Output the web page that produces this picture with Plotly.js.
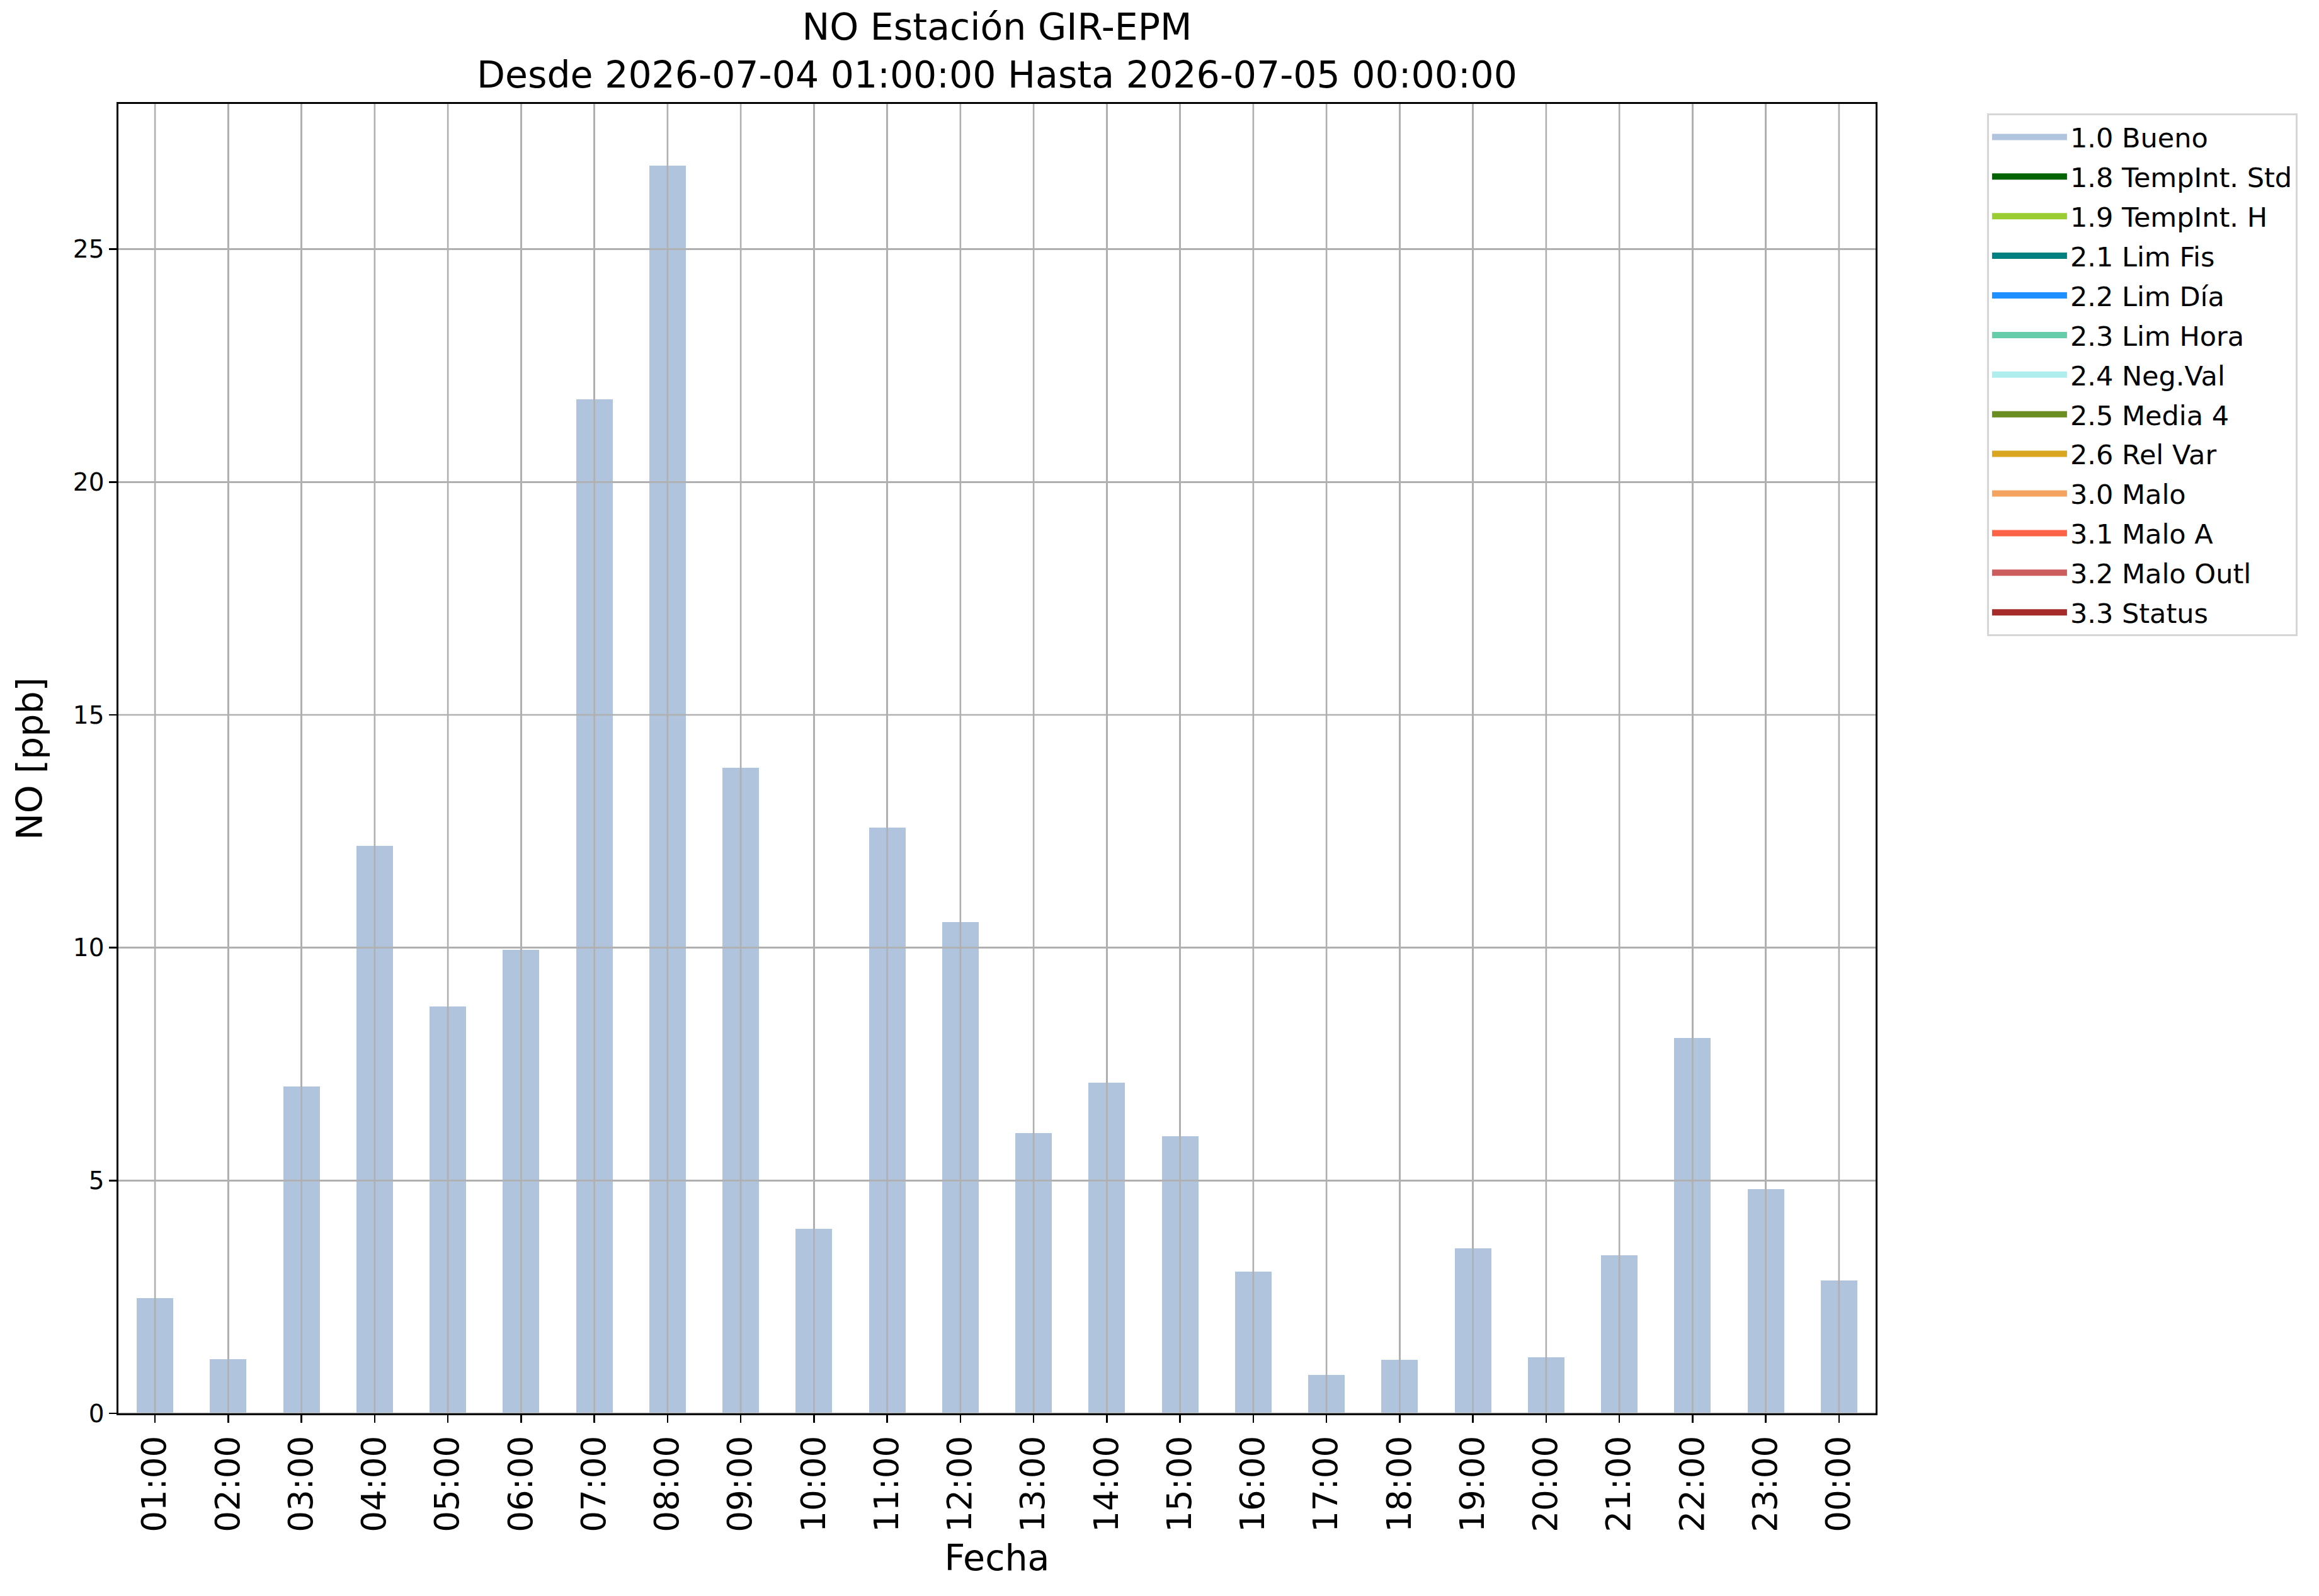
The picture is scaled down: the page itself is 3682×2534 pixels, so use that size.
<!DOCTYPE html>
<html>
<head>
<meta charset="utf-8">
<script src="https://cdn.plot.ly/plotly-3.0.1.min.js"></script>
<style>html,body{margin:0;padding:0;background:#fff;}#chart{width:3682px;height:2534px;}</style>
</head>
<body>
<div id="chart"></div>
<script>
const categories = ["01:00","02:00","03:00","04:00","05:00","06:00","07:00","08:00","09:00","10:00","11:00","12:00",
                    "13:00","14:00","15:00","16:00","17:00","18:00","19:00","20:00","21:00","22:00","23:00","00:00"];
const buenoValues = [2.47,1.16,7.02,12.19,8.74,9.96,21.78,26.79,13.86,3.96,12.58,10.55,
                     6.02,7.10,5.95,3.04,0.83,1.15,3.55,1.21,3.40,8.06,4.82,2.85];
// every other quality flag has no data in this period (all hours are 0)
const otherFlagValues = [0,0,0,0,0,0,0,0,0,0,0,0,0,0,0,0,0,0,0,0,0,0,0,0];
const flagNames = ["1.0 Bueno","1.8 TempInt. Std","1.9 TempInt. H","2.1 Lim Fis","2.2 Lim Día","2.3 Lim Hora",
                   "2.4 Neg.Val","2.5 Media 4","2.6 Rel Var","3.0 Malo","3.1 Malo A","3.2 Malo Outl","3.3 Status"];
const flagColors = ["#B0C4DE","#006400","#9ACD32","#008080","#1E90FF","#66CDAA",
                    "#AFEEEE","#6B8E23","#DAA520","#F4A460","#FF6347","#CD5C5C","#A52A2A"];
const yTicks = [0,5,10,15,20,25];

const FONT = "DejaVu Sans";
const barTraces = flagNames.map((name, i) => ({
  type: "bar",
  name: name,
  x: categories,
  y: i === 0 ? buenoValues : otherFlagValues,
  width: 0.5,
  marker: {color: flagColors[i], line: {width: 0}},
  legendgroup: "g" + i,
  showlegend: false,
  hoverinfo: "skip"
}));
// legend keys: wide colour patches like the original legend
const legendTraces = flagNames.map((name, i) => ({
  type: "scatter",
  mode: "lines",
  name: name,
  x: [null],
  y: [null],
  line: {color: flagColors[i], width: 29},
  legendgroup: "g" + i,
  showlegend: true,
  hoverinfo: "skip"
}));

const gridShapes = [];
categories.forEach(c => gridShapes.push({type:"line", xref:"x", yref:"paper", x0:c, x1:c, y0:0, y1:1,
  layer:"above", line:{color:"#b0b0b0", width:2.6}}));
yTicks.forEach(v => gridShapes.push({type:"line", xref:"paper", yref:"y", x0:0, x1:1, y0:v, y1:v,
  layer:"above", line:{color:"#b0b0b0", width:2.6}}));

const layout = {
  width: 3682, height: 2534,
  paper_bgcolor: "#ffffff", plot_bgcolor: "#ffffff",
  margin: {l: 188, r: 704, t: 165, b: 290, autoexpand: false},
  font: {family: FONT, color: "#000000"},
  barmode: "stack",
  bargap: 0.5,
  showlegend: true,
  title: {
    text: "NO Estación GIR-EPM<br>Desde 2026-07-04 01:00:00 Hasta 2026-07-05 00:00:00",
    font: {family: FONT, size: 58.5, color: "#000"},
    xref: "paper", x: 0.5, xanchor: "center",
    yref: "container", y: 0.975, yanchor: "bottom"
  },
  xaxis: {
    type: "category",
    categoryorder: "array", categoryarray: categories,
    range: [-0.5, 23.5],
    tickangle: -90,
    tickfont: {family: FONT, size: 53, color: "#000"},
    ticks: "outside", ticklen: 12, tickwidth: 2.7, tickcolor: "#000",
    showline: true, linecolor: "#000", linewidth: 2.7, mirror: true,
    showgrid: true, gridcolor: "#b0b0b0", gridwidth: 2.6,
    zeroline: false,
    title: {text: "Fecha", font: {family: FONT, size: 57, color: "#000"}, standoff: 22},
    automargin: false
  },
  yaxis: {
    range: [0, 28.12],
    tickvals: yTicks,
    ticktext: yTicks.map(String),
    tickfont: {family: FONT, size: 39, color: "#000"},
    ticks: "outside", ticklen: 12, tickwidth: 2.7, tickcolor: "#000",
    showline: true, linecolor: "#000", linewidth: 2.7, mirror: true,
    showgrid: true, gridcolor: "#b0b0b0", gridwidth: 2.6,
    zeroline: false,
    title: {text: "NO [ppb]", font: {family: FONT, size: 57, color: "#000"}, standoff: 30},
    automargin: false
  },
  legend: {
    x: 1.0634, xanchor: "left", xref: "paper",
    y: 0.9928, yanchor: "top", yref: "paper",
    bgcolor: "#ffffff", bordercolor: "#d6d6d6", borderwidth: 3,
    font: {family: FONT, size: 43, color: "#000"},
    traceorder: "grouped",
    tracegroupgap: 4,
    itemwidth: 119,
    itemsizing: "trace"
  },
  shapes: gridShapes
};

Plotly.newPlot("chart", barTraces.concat(legendTraces), layout, {displayModeBar: false, staticPlot: true});
</script>
</body>
</html>
